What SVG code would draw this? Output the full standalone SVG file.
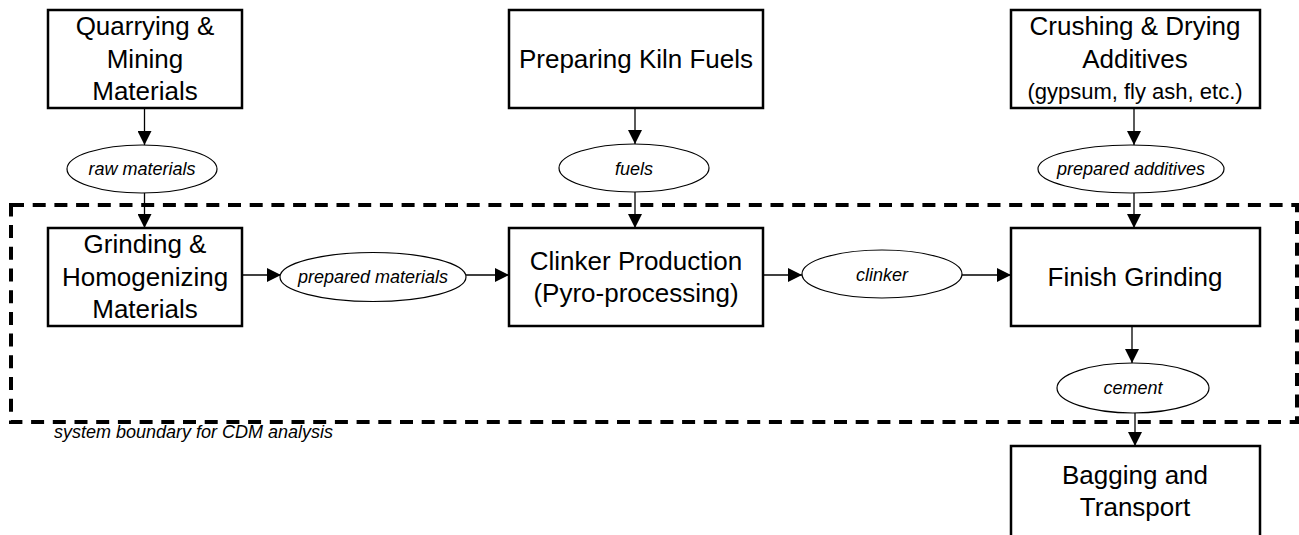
<svg xmlns="http://www.w3.org/2000/svg" width="1299" height="535" viewBox="0 0 1299 535">
<style>
.box{fill:#fff;stroke:#000;stroke-width:2.5}
.ell{fill:#fff;stroke:#000;stroke-width:1.2}
.t{font-family:"Liberation Sans",Arial,sans-serif;font-size:26px;fill:#000;text-anchor:middle}
.i{font-family:"Liberation Sans",Arial,sans-serif;font-size:18px;font-style:italic;fill:#000;text-anchor:middle}
.c{stroke:#000;stroke-width:1.3;fill:none;marker-end:url(#ah)}
</style>
<defs>
<marker id="ah" markerUnits="userSpaceOnUse" markerWidth="15" markerHeight="14" refX="14" refY="7" orient="auto">
<path d="M0,0 L14,7 L0,14 z" fill="#000"/>
</marker>
</defs>
<rect id="boundary" x="11" y="205" width="1286" height="217" fill="none" stroke="#000" stroke-width="4" stroke-dasharray="13 8.7"/>
<text class="i" x="54" y="438" style="text-anchor:start">system boundary for CDM analysis</text>
<g id="connectors">
<line class="c" x1="144.5" y1="108" x2="144.5" y2="145"/>
<line class="c" x1="144.5" y1="193" x2="144.5" y2="228"/>
<line class="c" x1="635" y1="108" x2="635" y2="144"/>
<line class="c" x1="635" y1="192" x2="635" y2="228"/>
<line class="c" x1="1134" y1="108" x2="1134" y2="145"/>
<line class="c" x1="1134" y1="193" x2="1134" y2="228"/>
<line class="c" x1="242" y1="275" x2="281" y2="275"/>
<line class="c" x1="466" y1="275" x2="509" y2="275"/>
<line class="c" x1="763" y1="275" x2="802" y2="275"/>
<line class="c" x1="962" y1="275" x2="1011" y2="275"/>
<line class="c" x1="1132" y1="326" x2="1132" y2="363"/>
<line class="c" x1="1135" y1="413" x2="1135" y2="446"/>
</g>
<g id="quarrying">
<rect class="box" x="48" y="10" width="194" height="98"/>
<text class="t" x="145" y="35">Quarrying &amp;</text>
<text class="t" x="145" y="67.5">Mining</text>
<text class="t" x="145" y="100">Materials</text>
</g>
<g id="kilnfuels">
<rect class="box" x="509" y="10" width="254" height="98"/>
<text class="t" x="636" y="68">Preparing Kiln Fuels</text>
</g>
<g id="crushing">
<rect class="box" x="1011" y="10" width="249" height="98"/>
<text class="t" x="1135" y="35">Crushing &amp; Drying</text>
<text class="t" x="1135" y="67.5">Additives</text>
<text class="t" x="1135" y="99" style="font-size:22px">(gypsum, fly ash, etc.)</text>
</g>
<g id="rawmaterials">
<ellipse class="ell" cx="142" cy="169" rx="75" ry="24"/>
<text class="i" x="142" y="175">raw materials</text>
</g>
<g id="fuels">
<ellipse class="ell" cx="634" cy="168" rx="75" ry="24"/>
<text class="i" x="634" y="175">fuels</text>
</g>
<g id="prepadditives">
<ellipse class="ell" cx="1131" cy="169" rx="93" ry="24"/>
<text class="i" x="1131" y="175">prepared additives</text>
</g>
<g id="grinding">
<rect class="box" x="48" y="228" width="194" height="98"/>
<text class="t" x="145" y="253">Grinding &amp;</text>
<text class="t" x="145" y="285.5">Homogenizing</text>
<text class="t" x="145" y="318">Materials</text>
</g>
<g id="prepmaterials">
<ellipse class="ell" cx="373" cy="277" rx="93" ry="24.5"/>
<text class="i" x="373" y="283">prepared materials</text>
</g>
<g id="clinkerprod">
<rect class="box" x="509" y="228" width="254" height="98"/>
<text class="t" x="636" y="270">Clinker Production</text>
<text class="t" x="636" y="302">(Pyro-processing)</text>
</g>
<g id="clinker">
<ellipse class="ell" cx="882" cy="274" rx="80" ry="24"/>
<text class="i" x="882" y="281">clinker</text>
</g>
<g id="finish">
<rect class="box" x="1011" y="228" width="249" height="98"/>
<text class="t" x="1135" y="286">Finish Grinding</text>
</g>
<g id="cement">
<ellipse class="ell" cx="1133" cy="388" rx="76" ry="25"/>
<text class="i" x="1133" y="394">cement</text>
</g>
<g id="bagging">
<rect class="box" x="1011" y="446" width="249" height="98"/>
<text class="t" x="1135" y="484">Bagging and</text>
<text class="t" x="1135" y="516">Transport</text>
</g>
</svg>
